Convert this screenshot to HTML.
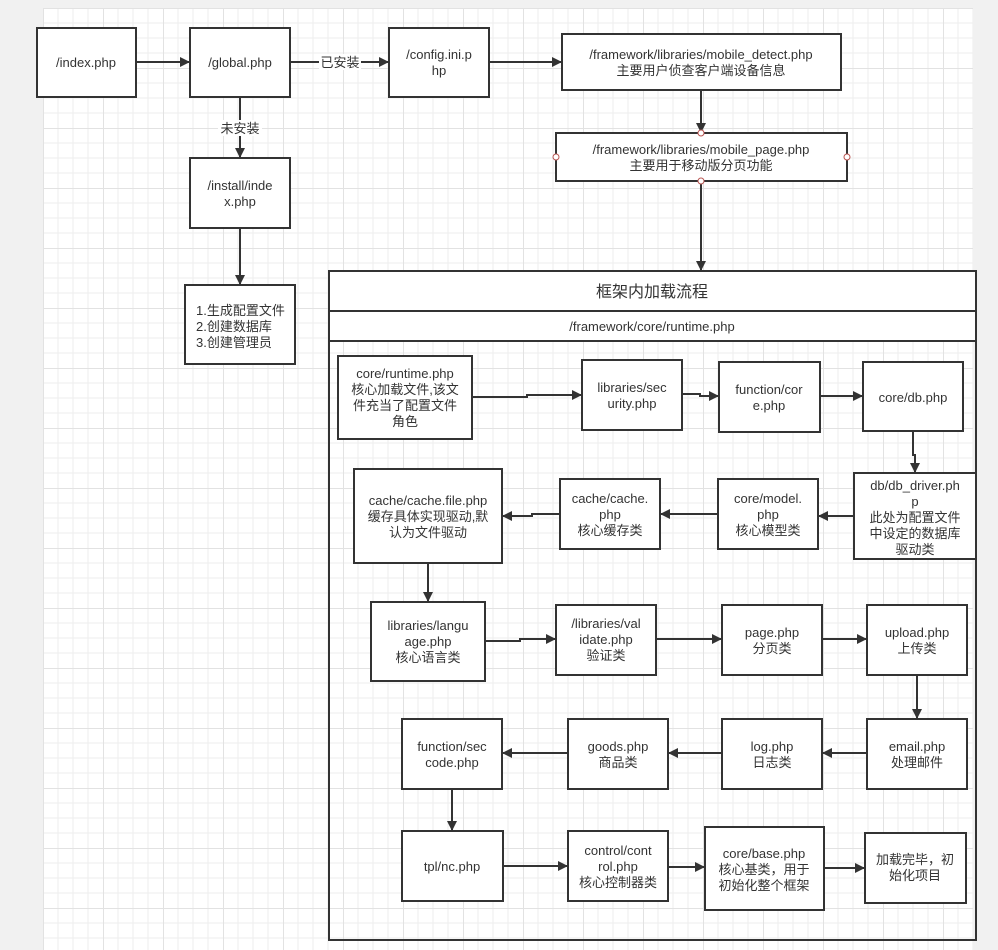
<!DOCTYPE html>
<html><head><meta charset="utf-8"><style>
html,body{margin:0;padding:0;background:#f1f1f1;}
svg{display:block}
text{font-family:"Liberation Sans","Noto Sans CJK SC",sans-serif;font-size:13px;fill:#333;text-anchor:middle}
</style></head><body>
<svg width="998" height="950" viewBox="0 0 998 950" xmlns="http://www.w3.org/2000/svg">
<defs>
<pattern id="g" x="43" y="8" width="60" height="60" patternUnits="userSpaceOnUse">
<rect width="60" height="60" fill="#fff"/>
<path d="M15 0V60M30 0V60M45 0V60M0 15H60M0 30H60M0 45H60" stroke="#eeeeee" stroke-width="1"/>
<path d="M0.5 0V60M0 0.5H60" stroke="#e2e2e2" stroke-width="1"/>
</pattern>
<marker id="a" markerWidth="10" markerHeight="10" refX="9" refY="5" orient="auto" markerUnits="userSpaceOnUse">
<path d="M0 0L10 5L0 10z" fill="#333"/>
</marker>
</defs>
<rect x="43" y="8" width="930" height="942" fill="url(#g)"/>
<g fill="#fff" stroke="#333" stroke-width="2">
<rect x="37" y="28" width="99" height="69"/>
<rect x="190" y="28" width="100" height="69"/>
<rect x="389" y="28" width="100" height="69"/>
<rect x="562" y="34" width="279" height="56"/>
<rect x="556" y="133" width="291" height="48"/>
<rect x="190" y="158" width="100" height="70"/>
<rect x="185" y="285" width="110" height="79"/>
<rect x="329" y="271" width="647" height="70"/>
</g>
<rect x="329" y="271" width="647" height="669" fill="none" stroke="#333" stroke-width="2"/>
<line x1="329" y1="311" x2="976" y2="311" stroke="#333" stroke-width="2"/>
<g fill="#fff" stroke="#333" stroke-width="2">
<rect x="338" y="356" width="134" height="83"/>
<rect x="582" y="360" width="100" height="70"/>
<rect x="719" y="362" width="101" height="70"/>
<rect x="863" y="362" width="100" height="69"/>
<rect x="854" y="473" width="122" height="86"/>
<rect x="718" y="479" width="100" height="70"/>
<rect x="560" y="479" width="100" height="70"/>
<rect x="354" y="469" width="148" height="94"/>
<rect x="371" y="602" width="114" height="79"/>
<rect x="556" y="605" width="100" height="70"/>
<rect x="722" y="605" width="100" height="70"/>
<rect x="867" y="605" width="100" height="70"/>
<rect x="867" y="719" width="100" height="70"/>
<rect x="722" y="719" width="100" height="70"/>
<rect x="568" y="719" width="100" height="70"/>
<rect x="402" y="719" width="100" height="70"/>
<rect x="402" y="831" width="101" height="70"/>
<rect x="568" y="831" width="100" height="70"/>
<rect x="705" y="827" width="119" height="83"/>
<rect x="865" y="833" width="101" height="70"/>
</g>
<g fill="none" stroke="#333" stroke-width="2" marker-end="url(#a)">
<path d="M136 62H189"/>
<path d="M290 62H388"/>
<path d="M489 62H561"/>
<path d="M240 97V157"/>
<path d="M240 228V284"/>
<path d="M701 90V132"/>
<path d="M701 181V270"/>
<path d="M472 397H527V395H581"/>
<path d="M682 394H700V396H718"/>
<path d="M820 396H862"/>
<path d="M913 431V455H915V472"/>
<path d="M854 516H819"/>
<path d="M718 514H661"/>
<path d="M560 514H532V516H503"/>
<path d="M428 563V601"/>
<path d="M485 641H520V639H555"/>
<path d="M656 639H721"/>
<path d="M822 639H866"/>
<path d="M917 675V718"/>
<path d="M867 753H823"/>
<path d="M722 753H669"/>
<path d="M568 753H503"/>
<path d="M452 789V830"/>
<path d="M503 866H567"/>
<path d="M668 867H704"/>
<path d="M824 868H864"/>
</g>
<rect x="319" y="54" width="42" height="16" fill="#fff"/>
<rect x="218" y="120" width="44" height="16" fill="#fff"/>
<g fill="#fff" stroke="#b85450" stroke-width="1">
<circle cx="701" cy="133" r="3"/><circle cx="701" cy="181" r="3"/>
<circle cx="556" cy="157" r="3"/><circle cx="847" cy="157" r="3"/>
</g>
<text x="86" y="67">/index.php</text>
<text x="240" y="67">/global.php</text>
<text x="439" y="59">/config.ini.p</text><text x="439" y="75">hp</text>
<text x="340" y="67">已安装</text>
<text x="240" y="133">未安装</text>
<text x="701" y="59">/framework/libraries/mobile_detect.php</text>
<text x="701" y="75">主要用户侦查客户端设备信息</text>
<text x="701" y="154">/framework/libraries/mobile_page.php</text>
<text x="701" y="170">主要用于移动版分页功能</text>
<text x="240" y="190">/install/inde</text><text x="240" y="206">x.php</text>
<g style="text-anchor:start"><text x="196" y="315" style="text-anchor:start">1.生成配置文件</text>
<text x="196" y="331" style="text-anchor:start">2.创建数据库</text>
<text x="196" y="347" style="text-anchor:start">3.创建管理员</text></g>
<text x="652" y="297" style="font-size:16px">框架内加载流程</text>
<text x="652" y="331">/framework/core/runtime.php</text>
<text x="405" y="378">core/runtime.php</text><text x="405" y="394">核心加载文件,该文</text><text x="405" y="410">件充当了配置文件</text><text x="405" y="426">角色</text>
<text x="632" y="392">libraries/sec</text><text x="632" y="408">urity.php</text>
<text x="769" y="394">function/cor</text><text x="769" y="410">e.php</text>
<text x="913" y="402">core/db.php</text>
<text x="915" y="490">db/db_driver.ph</text><text x="915" y="506">p</text><text x="915" y="522">此处为配置文件</text><text x="915" y="538">中设定的数据库</text><text x="915" y="554">驱动类</text>
<text x="768" y="503">core/model.</text><text x="768" y="519">php</text><text x="768" y="535">核心模型类</text>
<text x="610" y="503">cache/cache.</text><text x="610" y="519">php</text><text x="610" y="535">核心缓存类</text>
<text x="428" y="505">cache/cache.file.php</text><text x="428" y="521">缓存具体实现驱动,默</text><text x="428" y="537">认为文件驱动</text>
<text x="428" y="630">libraries/langu</text><text x="428" y="646">age.php</text><text x="428" y="662">核心语言类</text>
<text x="606" y="628">/libraries/val</text><text x="606" y="644">idate.php</text><text x="606" y="660">验证类</text>
<text x="772" y="637">page.php</text><text x="772" y="653">分页类</text>
<text x="917" y="637">upload.php</text><text x="917" y="653">上传类</text>
<text x="917" y="751">email.php</text><text x="917" y="767">处理邮件</text>
<text x="772" y="751">log.php</text><text x="772" y="767">日志类</text>
<text x="618" y="751">goods.php</text><text x="618" y="767">商品类</text>
<text x="452" y="751">function/sec</text><text x="452" y="767">code.php</text>
<text x="452" y="871">tpl/nc.php</text>
<text x="618" y="855">control/cont</text><text x="618" y="871">rol.php</text><text x="618" y="887">核心控制器类</text>
<text x="764" y="858">core/base.php</text><text x="764" y="874">核心基类，用于</text><text x="764" y="890">初始化整个框架</text>
<text x="915" y="864">加载完毕，初</text><text x="915" y="880">始化项目</text>
</svg>
</body></html>
